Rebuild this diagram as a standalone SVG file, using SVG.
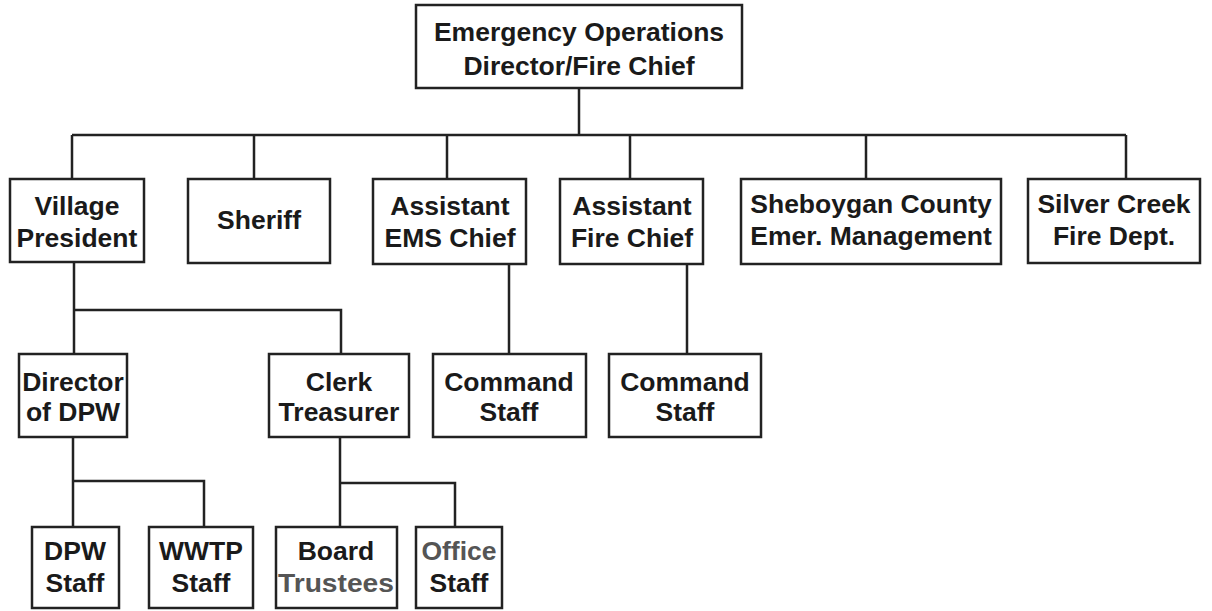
<svg xmlns="http://www.w3.org/2000/svg" width="1212" height="611" viewBox="0 0 1212 611">
<style>
.box{fill:#fff;stroke:#222;stroke-width:2.5}
.ln{fill:none;stroke:#222;stroke-width:2.5}
text{font-family:"Liberation Sans",Arial,sans-serif;font-weight:bold;font-size:26.5px;fill:#1a1a1a;text-anchor:middle}
.gray{fill:#555}
</style>
<rect width="1212" height="611" fill="#fff"/>
<g id="connectors">
<path class="ln" d="M579,88 V135 M72,135 H1126 M72,135 V179 M254,135 V179 M447,135 V179 M630,135 V179 M866,135 V179 M1126,135 V179"/>
<path class="ln" d="M74,262 V310 H341 V354 M74,310 V354"/>
<path class="ln" d="M509,264 V354 M687,264 V354"/>
<path class="ln" d="M73,437 V481 H204 V527 M73,481 V527"/>
<path class="ln" d="M340,437 V483 H455 V527 M340,483 V527"/>
</g>
<g id="n-eod"><rect class="box" x="416" y="5" width="326" height="83"/><text x="579" y="41">Emergency Operations</text><text x="579" y="75">Director/Fire Chief</text></g>
<g id="n-vp"><rect class="box" x="10" y="179" width="134" height="83"/><text x="77" y="215">Village</text><text x="77" y="247">President</text></g>
<g id="n-sheriff"><rect class="box" x="188" y="179" width="142" height="84"/><text x="259" y="229">Sheriff</text></g>
<g id="n-ems"><rect class="box" x="373" y="179" width="153" height="85"/><text x="450" y="215">Assistant</text><text x="450" y="247">EMS Chief</text></g>
<g id="n-afc"><rect class="box" x="560" y="179" width="143" height="85"/><text x="632" y="215">Assistant</text><text x="632" y="247">Fire Chief</text></g>
<g id="n-scem"><rect class="box" x="741" y="179" width="260" height="85"/><text x="871" y="213">Sheboygan County</text><text x="871" y="245">Emer. Management</text></g>
<g id="n-scfd"><rect class="box" x="1028" y="179" width="172" height="84"/><text x="1114" y="213">Silver Creek</text><text x="1114" y="245">Fire Dept.</text></g>
<g id="n-dpw"><rect class="box" x="19" y="354" width="108" height="83"/><text x="73" y="391">Director</text><text x="73" y="421">of DPW</text></g>
<g id="n-clerk"><rect class="box" x="269" y="354" width="140" height="83"/><text x="339" y="391">Clerk</text><text x="339" y="421">Treasurer</text></g>
<g id="n-cs1"><rect class="box" x="433" y="354" width="153" height="83"/><text x="509" y="391">Command</text><text x="509" y="421">Staff</text></g>
<g id="n-cs2"><rect class="box" x="609" y="354" width="152" height="83"/><text x="685" y="391">Command</text><text x="685" y="421">Staff</text></g>
<g id="n-dpwstaff"><rect class="box" x="32" y="527" width="87" height="81"/><text x="75" y="560">DPW</text><text x="75" y="592">Staff</text></g>
<g id="n-wwtp"><rect class="box" x="149" y="527" width="104" height="81"/><text x="201" y="560">WWTP</text><text x="201" y="592">Staff</text></g>
<g id="n-board"><rect class="box" x="276" y="527" width="121" height="81"/><text x="336" y="560">Board</text><text class="gray" x="336" y="592" textLength="116" lengthAdjust="spacingAndGlyphs">Trustees</text></g>
<g id="n-office"><rect class="box" x="416" y="527" width="86" height="81"/><text class="gray" x="459" y="560">Office</text><text x="459" y="592">Staff</text></g>
</svg>
